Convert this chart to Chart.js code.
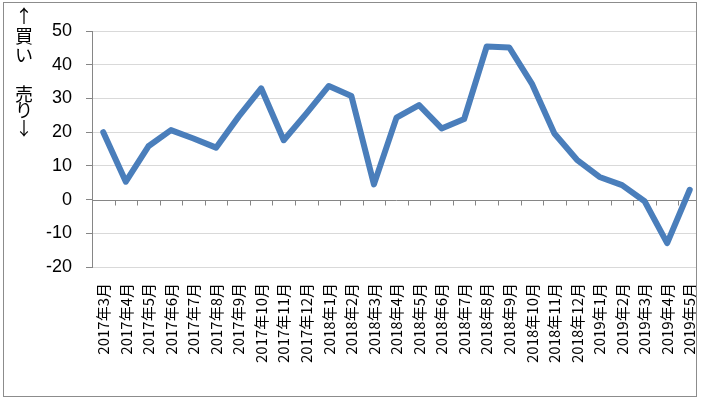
<!DOCTYPE html>
<html><head><meta charset="utf-8">
<script src="https://cdn.jsdelivr.net/npm/chart.js@4/dist/chart.umd.min.js"></script>
<style>html,body{margin:0;padding:0;background:#fff;}canvas{display:block;}</style>
</head><body>
<canvas id="c" width="701" height="398"></canvas>
<script>
const categories = ["2017年3月","2017年4月","2017年5月","2017年6月","2017年7月","2017年8月","2017年9月","2017年10月","2017年11月","2017年12月",
"2018年1月","2018年2月","2018年3月","2018年4月","2018年5月","2018年6月","2018年7月","2018年8月","2018年9月","2018年10月","2018年11月","2018年12月",
"2019年1月","2019年2月","2019年3月","2019年4月","2019年5月"];
const values = [20, 5.3, 15.8, 20.6, 18.1, 15.4, 24.6, 33.0, 17.6, 25.5,
  33.7, 30.7, 4.5, 24.3, 28.0, 21.1, 23.9, 45.4, 45.1, 34.4, 19.6, 11.8,
  6.7, 4.3, -0.5, -12.9, 2.9];
const yTicks = [50, 40, 30, 20, 10, 0, -10, -20];
const axisTitleTop = ["↑","買","い"];
const axisTitleBottom = ["売","り","↓"];

const decor = {
  id: 'decor',
  beforeDatasetsDraw(chart) {
    const ctx = chart.ctx, xs = chart.scales.x, ys = chart.scales.y;
    const y0 = Math.round(ys.getPixelForValue(0)) + 0.5;
    ctx.save();
    ctx.strokeStyle = '#868686';
    ctx.lineWidth = 1;
    ctx.beginPath();
    ctx.moveTo(xs.left, y0); ctx.lineTo(xs.right, y0);
    const n = categories.length;
    for (let i = 0; i <= n; i++) {
      let x;
      if (i === 0) x = xs.left;
      else if (i === n) x = xs.right;
      else x = (xs.getPixelForValue(i - 1) + xs.getPixelForValue(i)) / 2;
      x = Math.round(x) + 0.5;
      ctx.moveTo(x, y0); ctx.lineTo(x, y0 + 5);
    }
    ctx.stroke();
    ctx.restore();
  },
  afterDraw(chart) {
    const ctx = chart.ctx;
    ctx.save();
    ctx.fillStyle = '#000';
    ctx.font = '18px "Noto Sans CJK JP", sans-serif';
    ctx.textAlign = 'center';
    ctx.textBaseline = 'middle';
    const topY = [16, 36, 55];
    const botY = [94, 110, 128];
    axisTitleTop.forEach((ch, i) => ctx.fillText(ch, 24, topY[i]));
    axisTitleBottom.forEach((ch, i) => ctx.fillText(ch, 24, botY[i]));
    ctx.fillStyle = '#fff';
    ctx.fillRect(697, 0, 10, 398);
    ctx.strokeStyle = '#8c8c8c';
    ctx.lineWidth = 1;
    ctx.strokeRect(3.5, 2.5, 693, 394);
    ctx.restore();
  }
};

new Chart(document.getElementById('c'), {
  type: 'line',
  data: {
    labels: categories,
    datasets: [{
      data: values,
      borderColor: '#4a7ebb',
      backgroundColor: '#4a7ebb',
      borderWidth: 6,
      pointRadius: 0,
      tension: 0,
      borderJoinStyle: 'round',
      borderCapStyle: 'round'
    }]
  },
  options: {
    responsive: false,
    animation: false,
    devicePixelRatio: 1,
    layout: { padding: { top: 31, right: 0, left: 0, bottom: 0 } },
    plugins: { legend: { display: false }, tooltip: { enabled: false } },
    scales: {
      x: {
        offset: true,
        grid: { display: false, drawTicks: false },
        border: { display: false },
        ticks: {
          minRotation: 90, maxRotation: 90, autoSkip: false,
          padding: 16, color: '#000',
          font: { family: '"Noto Sans CJK JP", sans-serif', size: 15 }
        },
        afterFit(s) { s.height = 131; s.paddingLeft = 0; s.paddingRight = 0; }
      },
      y: {
        min: -20, max: 50,
        afterBuildTicks(s) { s.ticks = yTicks.map(v => ({ value: v })); },
        grid: {
          color: ctx => (ctx.tick && ctx.tick.value === 0) ? 'rgba(0,0,0,0)' : '#d9d9d9',
          tickColor: '#868686', tickLength: 6, lineWidth: 1
        },
        border: { display: true, color: '#868686' },
        ticks: {
          color: '#000', padding: 14,
          font: { family: '"Liberation Sans", Arial, sans-serif', size: 18 }
        },
        afterFit(s) { s.width = 92; }
      }
    }
  },
  plugins: [decor]
});
</script>
</body></html>
